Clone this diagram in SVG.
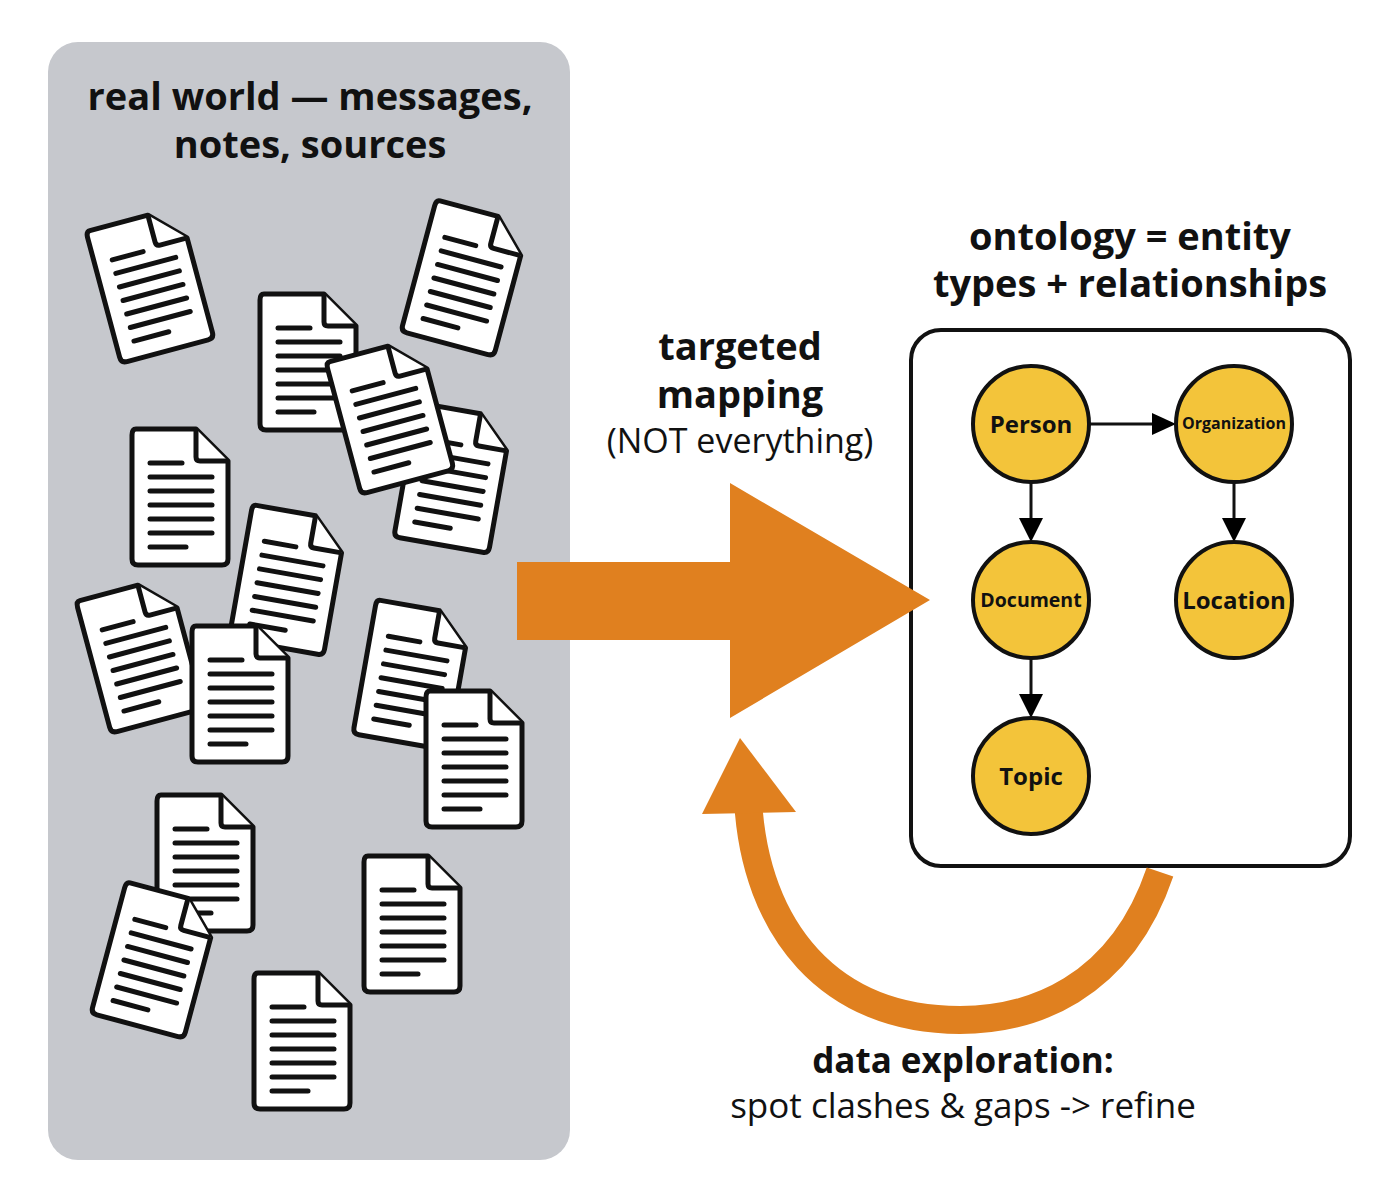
<svg xmlns="http://www.w3.org/2000/svg" width="1400" height="1202" viewBox="0 0 1400 1202">
<style>
.t{font-family:"Open Sans","Noto Sans",sans-serif;fill:#111;text-anchor:middle}
.b{font-weight:700}
.n{font-family:"Open Sans","Noto Sans",sans-serif;font-weight:700;fill:#111;text-anchor:middle}
.c{fill:#f3c43a;stroke:#111;stroke-width:4}
.e{stroke:#111;stroke-width:3;fill:none}
</style>
<defs>
<g id="doc">
<path d="M-44,-68 H16 L48,-36 V62 Q48,68 42,68 H-42 Q-48,68 -48,62 V-62 Q-48,-68 -44,-68 Z" fill="#fff" stroke="#111" stroke-width="5" stroke-linejoin="round"/>
<path d="M16,-68 V-40 Q16,-36 20,-36 H48" fill="#fff" stroke="#111" stroke-width="5" stroke-linejoin="round"/>
<g stroke="#111" stroke-width="5" stroke-linecap="round">
<line x1="-30" y1="-34" x2="2" y2="-34"/>
<line x1="-30" y1="-20" x2="32" y2="-20"/>
<line x1="-30" y1="-6" x2="32" y2="-6"/>
<line x1="-30" y1="8" x2="32" y2="8"/>
<line x1="-30" y1="22" x2="32" y2="22"/>
<line x1="-30" y1="36" x2="32" y2="36"/>
<line x1="-30" y1="50" x2="6" y2="50"/>
</g>
</g>
</defs>
<rect x="48" y="42" width="522" height="1118" rx="30" fill="#c6c8cd"/>
<text class="t b" x="310" y="110" font-size="38">real world — messages,</text>
<text class="t b" x="310" y="158" font-size="38">notes, sources</text>
<g id="docs">
<use href="#doc" transform="translate(150,285) rotate(-15)"/>
<use href="#doc" transform="translate(465,278) rotate(15)"/>
<use href="#doc" transform="translate(308,362)"/>
<use href="#doc" transform="translate(453,478) rotate(10)"/>
<use href="#doc" transform="translate(390,416) rotate(-15)"/>
<use href="#doc" transform="translate(180,497)"/>
<use href="#doc" transform="translate(288,580) rotate(10)"/>
<use href="#doc" transform="translate(140,655) rotate(-15)"/>
<use href="#doc" transform="translate(240,694)"/>
<use href="#doc" transform="translate(412,675) rotate(10)"/>
<use href="#doc" transform="translate(474,759)"/>
<use href="#doc" transform="translate(205,863)"/>
<use href="#doc" transform="translate(155,960) rotate(15)"/>
<use href="#doc" transform="translate(412,924)"/>
<use href="#doc" transform="translate(302,1041)"/>
</g>
<rect x="911" y="330" width="439" height="536" rx="30" fill="#fff" stroke="#111" stroke-width="4"/>
<g id="arrows">
<path d="M517,562 H730 V483 L930,600 L730,718 V640 H517 Z" fill="#e0801f"/>
<path d="M1160,872 C1120,990 1030,1020 960,1020 C830,1020 755,930 748,800" fill="none" stroke="#e0801f" stroke-width="28"/>
<path d="M740,738 L796,812 L702,814 Z" fill="#e0801f"/>
</g>
<text class="t b" x="740" y="360" font-size="38">targeted</text>
<text class="t b" x="740" y="408" font-size="38">mapping</text>
<text class="t" x="740" y="453" font-size="34">(NOT everything)</text>
<text class="t b" x="1130" y="250" font-size="38">ontology = entity</text>
<text class="t b" x="1130" y="297" font-size="38">types + relationships</text>
<text class="t b" x="963" y="1073" font-size="35">data exploration:</text>
<text class="t" x="963" y="1118" font-size="35">spot clashes &amp; gaps -&gt; refine</text>
<g id="connectors">
<line class="e" x1="1089" y1="424" x2="1152" y2="424"/><path d="M1152,413 L1176,424 L1152,435 Z"/>
<line class="e" x1="1031" y1="482" x2="1031" y2="518"/><path d="M1019,518 L1031,542 L1043,518 Z"/>
<line class="e" x1="1234" y1="482" x2="1234" y2="518"/><path d="M1222,518 L1234,542 L1246,518 Z"/>
<line class="e" x1="1031" y1="658" x2="1031" y2="694"/><path d="M1019,694 L1031,718 L1043,694 Z"/>
</g>
<g id="person"><circle class="c" cx="1031" cy="424" r="58"/><text class="n" x="1031" y="433" font-size="24">Person</text></g>
<g id="organization"><circle class="c" cx="1234" cy="424" r="58"/><text class="n" x="1234" y="429" font-size="16">Organization</text></g>
<g id="document"><circle class="c" cx="1031" cy="600" r="58"/><text class="n" x="1031" y="607" font-size="19.5">Document</text></g>
<g id="location"><circle class="c" cx="1234" cy="600" r="58"/><text class="n" x="1234" y="609" font-size="24">Location</text></g>
<g id="topic"><circle class="c" cx="1031" cy="776" r="58"/><text class="n" x="1031" y="785" font-size="24">Topic</text></g>
</svg>
